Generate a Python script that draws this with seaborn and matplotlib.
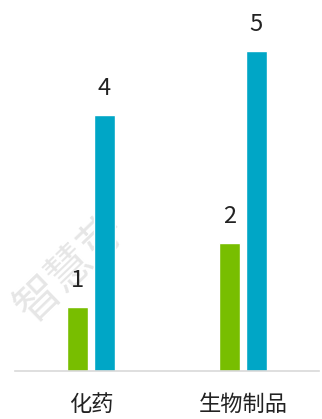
import matplotlib
matplotlib.use("Agg")
import matplotlib.pyplot as plt
import seaborn as sns
import pandas as pd

categories = ["化药", "生物制品"]
series_names = ["A", "B"]
values_a = [1, 2]
values_b = [4, 5]
colors = ["#78BE00", "#00A6C6"]

sns.set_theme(style="white")
plt.rcParams["font.family"] = ["Noto Sans CJK SC", "DejaVu Sans"]

df = pd.DataFrame({
    "category": categories * 2,
    "series": [series_names[0]] * len(categories) + [series_names[1]] * len(categories),
    "value": values_a + values_b,
})

fig = plt.figure(figsize=(3.22, 4.19), dpi=100)
ax = fig.add_axes([0.047, 0.1146, 0.943, 0.8854])
ax.patch.set_alpha(0)

sns.barplot(data=df, x="category", y="value", hue="series", order=categories,
            hue_order=series_names, palette=colors, width=0.355, gap=0.22,
            legend=False, ax=ax, saturation=1)

ax.set_xlim(-0.5, 1.5)
ax.set_ylim(0, 5.8)
for side in ["left", "right", "top"]:
    ax.spines[side].set_visible(False)
ax.spines["bottom"].set_color("#d9d9d9")
ax.spines["bottom"].set_linewidth(1.2)
ax.set_yticks([])
ax.set_xlabel("")
ax.set_ylabel("")
ax.tick_params(axis="x", length=0, pad=16, labelsize=16, labelcolor="#222222")

for container in ax.containers:
    for bar in container:
        h = bar.get_height()
        ax.annotate(f"{h:g}", (bar.get_x() + bar.get_width() / 2, h),
                    xytext=(0, 14.5), textcoords="offset points",
                    ha="center", va="baseline", fontsize=17, color="#222222")

# watermark behind the bars
ax.text(0.22, 0.36, "智慧芽", transform=fig.transFigure, rotation=44,
        fontsize=32, color="#e6e6e6", ha="center", va="center", zorder=0)

fig.savefig("out.png", dpi=100)
